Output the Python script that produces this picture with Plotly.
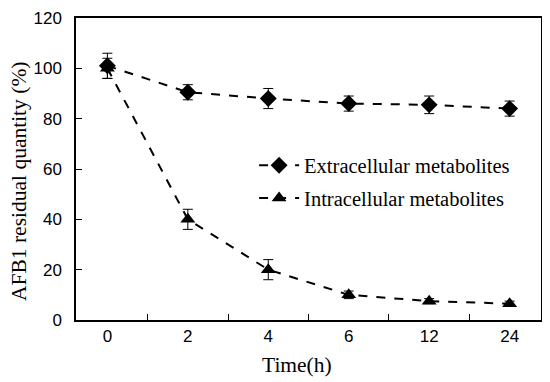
import plotly.graph_objects as go

time_labels = ["0", "2", "4", "6", "12", "24"]
extra_vals = [101, 90.5, 88, 86, 85.5, 84]
extra_err = [5, 3, 4, 3, 3.5, 3]
intra_vals = [100, 40, 20, 10, 7.5, 6.5]
intra_err = [4, 4, 4, 1.5, 1, 1]

serif = "Liberation Serif"
sans = "Liberation Sans"

fig = go.Figure()
fig.add_trace(go.Scatter(
    x=time_labels, y=extra_vals, name="Extracellular metabolites",
    mode="lines+markers", legendgroup="a",
    line=dict(color="black", width=2, dash="dash"),
    marker=dict(symbol="diamond", size=13, color="black"),
    error_y=dict(type="data", array=extra_err, color="black", thickness=1, width=5),
))
fig.add_trace(go.Scatter(
    x=time_labels, y=intra_vals, name="Intracellular metabolites",
    mode="lines+markers", legendgroup="b",
    line=dict(color="black", width=2, dash="dash"),
    marker=dict(symbol="triangle-up", size=13, color="black"),
    error_y=dict(type="data", array=intra_err, color="black", thickness=1, width=5),
))

# page body has an 8px margin, so the figure is sized 542x374 and shifted accordingly
fig.update_layout(
    width=542, height=374,
    margin=dict(l=68, r=9, t=10, b=62),
    paper_bgcolor="white", plot_bgcolor="white",
    showlegend=True,
    legend=dict(x=0.383, y=0.578, xanchor="left", yanchor="top",
                font=dict(family=serif, size=20.5, color="black"),
                bgcolor="rgba(0,0,0,0)", itemwidth=40, tracegroupgap=3),
    xaxis=dict(
        type="category", tickson="boundaries", ticks="inside", ticklen=6,
        tickcolor="black", showline=True, linecolor="black", linewidth=1.5,
        mirror=True, showgrid=False, automargin=False,
        tickfont=dict(family=sans, size=17, color="black"),
    ),
    yaxis=dict(
        range=[0, 120], dtick=20, ticks="inside", ticklen=6, tickcolor="black",
        showline=True, linecolor="black", linewidth=1.5, mirror=True,
        showgrid=False, zeroline=False, automargin=False, ticklabelstandoff=9,
        ticklabeloverflow="allow",
        tickfont=dict(family=sans, size=17, color="black"),
    ),
    annotations=[
        dict(text="Time(h)", xref="paper", yref="paper", x=(297 - 76) / 465, y=-45 / 302,
             xanchor="center", yanchor="middle", showarrow=False,
             font=dict(family=serif, size=21.5, color="black")),
        dict(text="AFB1 residual quantity (%)", xref="paper", yref="paper",
             x=(19 - 76) / 465, y=138 / 302, textangle=-90,
             xanchor="center", yanchor="middle", showarrow=False,
             font=dict(family=serif, size=21.5, color="black")),
    ],
)

fig.write_html("out.html")
